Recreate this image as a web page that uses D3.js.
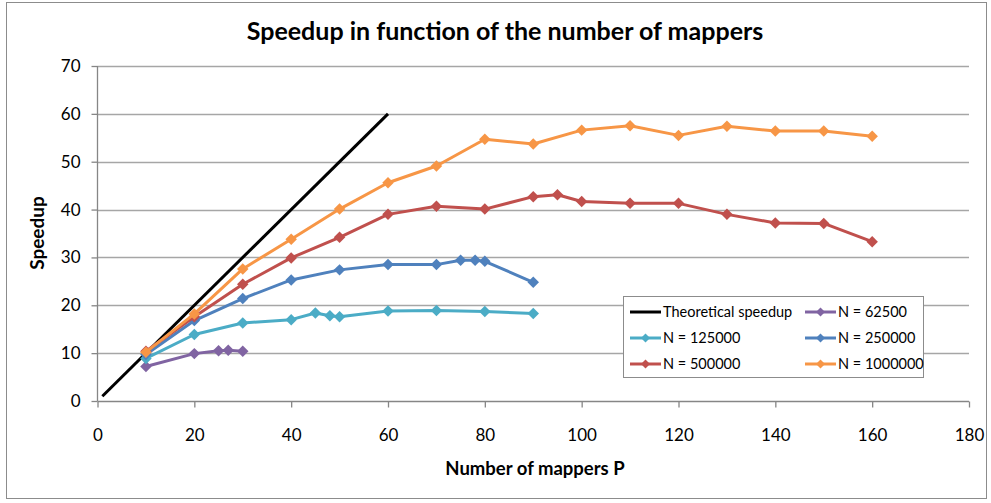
<!DOCTYPE html>
<html><head><meta charset="utf-8">
<script src="https://cdn.jsdelivr.net/npm/d3@7"></script>
<style>body{margin:0;background:#fff}svg{display:block}text{font-family:Lato,"Open Sans",sans-serif}</style>
</head><body><svg id="c" width="991" height="503"></svg>
<script>
const title = "Speedup in function of the number of mappers";
const xLabel = "Number of mappers P";
const yLabel = "Speedup";
const xTicks = [0,20,40,60,80,100,120,140,160,180];
const yTicks = [0,10,20,30,40,50,60,70];
const theoretical = [[1,1],[60,60]];
const s62500 = [[10,7.2],[20,9.9],[25,10.5],[27,10.6],[30,10.4]];
const s125000 = [[10,8.9],[20,13.9],[30,16.3],[40,17.0],[45,18.4],[48,17.8],[50,17.6],[60,18.8],[70,18.9],[80,18.7],[90,18.3]];
const s250000 = [[10,9.7],[20,16.8],[30,21.4],[40,25.3],[50,27.4],[60,28.5],[70,28.5],[75,29.4],[78,29.4],[80,29.2],[90,24.8]];
const s500000 = [[10,10.4],[20,17.6],[30,24.4],[40,29.9],[50,34.2],[60,39.0],[70,40.7],[80,40.1],[90,42.7],[95,43.1],[100,41.7],[110,41.3],[120,41.3],[130,39.0],[140,37.2],[150,37.1],[160,33.3]];
const s1000000 = [[10,10.2],[20,18.2],[30,27.6],[40,33.8],[50,40.1],[60,45.6],[70,49.1],[80,54.7],[90,53.7],[100,56.6],[110,57.5],[120,55.5],[130,57.4],[140,56.4],[150,56.4],[160,55.3]];
const seriesNames = ["Theoretical speedup","N = 62500","N = 125000","N = 250000","N = 500000","N = 1000000"];
const seriesColors = ["#000000","#8064A2","#4BACC6","#4F81BD","#C0504D","#F79646"];
const seriesData = [theoretical,s62500,s125000,s250000,s500000,s1000000];

const svg = d3.select("#c");
svg.append("rect").attr("x",6.5).attr("y",2.5).attr("width",980).attr("height",496)
  .attr("fill","#fff").attr("stroke","#8c8c8c").attr("stroke-width",1);

const L=97.5,R=969,T=66,B=401;
const x = d3.scaleLinear().domain([0,180]).range([L,R]);
const y = d3.scaleLinear().domain([0,70]).range([B,T]);

// gridlines
svg.append("g").selectAll("line").data(yTicks.slice(1)).join("line")
  .attr("x1",L).attr("x2",R).attr("y1",d=>Math.round(y(d))+0.5).attr("y2",d=>Math.round(y(d))+0.5)
  .attr("stroke","#a6a6a6").attr("stroke-width",1.3);

// axes
const xa = svg.append("g").attr("transform",`translate(0,${B+0.5})`)
  .call(d3.axisBottom(x).tickValues(xTicks).tickSize(6).tickPadding(21).tickFormat(d3.format("d")));
const ya = svg.append("g").attr("transform",`translate(${L},0)`)
  .call(d3.axisLeft(y).tickValues(yTicks).tickSize(6).tickPadding(11).tickFormat(d3.format("d")));
[xa,ya].forEach(a=>{
  a.select(".domain").attr("stroke","#868686").attr("stroke-width",1.3);
  a.selectAll(".tick line").attr("stroke","#868686").attr("stroke-width",1.3);
  a.selectAll(".tick text").attr("font-size",17).attr("fill","#000");
});
xa.select(".domain").attr("d",`M${L},0H${R}`);
ya.select(".domain").attr("d",`M0,${B}V${T}`);

// series lines
const line = d3.line().x(d=>x(d[0])).y(d=>y(d[1]));
const diamond = d3.symbol().type(d3.symbolSquare).size(66);
seriesData.forEach((data,i)=>{
  const g = svg.append("g");
  g.append("path").attr("d",line(data)).attr("fill","none")
    .attr("stroke",seriesColors[i]).attr("stroke-width",3).attr("stroke-linejoin","round");
  if(i>0){
    g.selectAll("path.m").data(data).join("path").attr("class","m")
      .attr("d",diamond).attr("transform",d=>`translate(${x(d[0])},${y(d[1])}) rotate(45)`)
      .attr("fill",seriesColors[i]);
  }
});

// title & labels
svg.append("text").attr("x",505).attr("y",40).attr("text-anchor","middle")
  .attr("font-size",25).attr("font-weight","bold").text(title);
svg.append("text").attr("x",535).attr("y",475).attr("text-anchor","middle")
  .attr("font-size",18.5).attr("font-weight","bold").text(xLabel);
svg.append("text").attr("transform","translate(44,233) rotate(-90)").attr("text-anchor","middle")
  .attr("font-size",19).attr("font-weight","bold").text(yLabel);

// legend
const lg = svg.append("g");
lg.append("rect").attr("x",623.5).attr("y",296.5).attr("width",300).attr("height",81)
  .attr("fill","#fff").attr("stroke","#8c8c8c");
const cols=[630,805], rows=[312,338,364];
seriesNames.forEach((name,si)=>{
  const cx=cols[si%2], cy=rows[Math.floor(si/2)];
  lg.append("line").attr("x1",cx).attr("x2",cx+31).attr("y1",cy).attr("y2",cy)
    .attr("stroke",seriesColors[si]).attr("stroke-width",3);
  if(si>0) lg.append("path").attr("d",d3.symbol().type(d3.symbolSquare).size(40))
    .attr("transform",`translate(${cx+15.5},${cy}) rotate(45)`).attr("fill",seriesColors[si]);
  lg.append("text").attr("x",cx+33).attr("y",cy+5).attr("font-size",14.5).text(name);
});
</script></body></html>
